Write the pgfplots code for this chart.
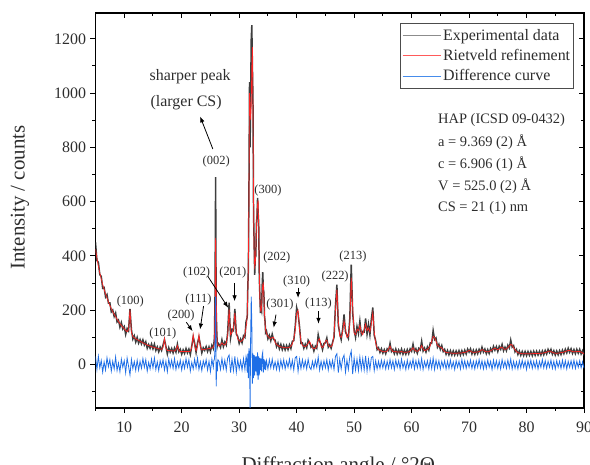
\documentclass[border=0pt]{standalone}
\usepackage{fontspec}
\setmainfont{Liberation Serif}
\usepackage{pgfplots}
\pgfplotsset{compat=1.18}
\usepackage{pgfplotstable}
\usetikzlibrary{arrows.meta}
\definecolor{expc}{RGB}{62,62,62}
\definecolor{calcc}{RGB}{255,35,35}
\definecolor{diffc}{RGB}{30,110,230}
\definecolor{txt}{RGB}{45,45,45}
\definecolor{legexp}{RGB}{140,140,140}
\definecolor{legcalc}{RGB}{255,90,90}
\definecolor{legdiff}{RGB}{70,140,235}

\pgfplotstableread{
x calc exp diff
5.00 425 450 30
5.25 392 383 -18
5.50 362 377 30
5.75 337 331 -12
6.00 315 325 15
6.25 295 281 -28
6.50 277 284 10
6.75 260 249 -20
7.00 245 258 25
7.25 231 226 -8
7.50 218 227 18
7.75 206 194 -24
8.00 195 201 12
8.25 185 177 -16
8.50 176 190 28
8.75 167 157 -22
9.00 159 164 6
9.25 151 138 -26
9.50 144 155 20
9.75 138 131 -10
10.00 132 140 14
10.25 126 111 -30
10.50 121 133 24
10.75 128 124 -6
11.00 202 205 -38
11.25 119 129 19
11.50 103 94 -15
11.75 99 106 11
12.00 95 83 -21
12.25 92 100 16
12.50 89 79 -20
12.75 86 92 12
13.00 83 76 -14
13.25 80 91 22
13.50 77 72 -10
13.75 75 84 18
14.00 72 60 -24
14.25 70 74 8
14.50 68 60 -16
14.75 66 76 20
15.00 64 58 -12
15.25 63 75 24
15.50 61 52 -18
15.75 60 65 10
16.00 58 47 -22
16.25 57 64 14
16.50 56 52 -8
16.75 63 72 18
17.00 96 92 -20
17.25 61 67 12
17.50 52 39 -26
17.75 52 62 20
18.00 51 46 -10
18.25 51 59 16
18.50 50 43 -14
18.75 50 61 22
19.00 55 46 -18
19.25 70 75 10
19.50 53 47 -12
19.75 48 56 16
20.00 48 38 -20
20.25 48 54 12
20.50 48 41 -14
20.75 48 59 22
21.00 48 43 -10
21.25 48 57 18
21.50 49 37 -24
21.75 64 68 8
22.00 110 102 -16
22.25 69 79 20
22.50 51 45 -12
22.75 68 80 24
23.00 110 101 -18
23.25 67 72 10
23.50 54 43 -22
23.75 55 62 14
24.00 56 52 -8
24.25 57 66 18
24.50 58 48 -20
24.75 59 65 12
25.00 60 47 -26
25.25 61 71 20
25.50 64 59 -10
25.60 70 78 15
25.70 90 100 20
25.80 200 260 60
25.90 467 690 250
26.00 280 200 -80
26.10 110 120 10
26.20 78 70 -25
26.30 72 80 18
26.50 68 75 12
26.75 72 63 -18
27.00 80 91 22
27.25 74 66 -14
27.50 72 83 16
27.75 80 72 -20
28.00 106 118 25
28.25 203 228 35
28.50 110 98 -30
28.75 118 130 20
29.00 132 125 -22
29.25 190 205 30
29.50 120 112 -28
29.75 95 104 18
30.00 88 78 -16
30.25 85 94 14
30.50 88 80 -20
30.75 95 106 22
31.00 110 100 -18
31.20 140 160 30
31.30 150 165 20
31.40 190 175 -30
31.50 260 285 40
31.60 380 350 -50
31.70 600 640 60
31.80 1000 1040 45
31.90 950 800 -160
32.00 900 1000 110
32.10 960 1200 250
32.20 1100 1250 150
32.30 1170 1100 -70
32.40 950 980 40
32.50 600 560 -50
32.60 420 450 35
32.70 360 330 -40
32.80 370 395 30
32.90 420 400 -25
33.00 500 520 30
33.10 570 545 -40
33.20 590 614 45
33.30 605 560 -55
33.40 500 520 30
33.50 350 320 -40
33.60 240 255 25
33.70 200 190 -20
33.80 195 210 22
33.90 215 200 -25
34.00 260 290 35
34.10 295 340 45
34.20 300 280 -30
34.30 250 265 20
34.40 190 180 -18
34.50 150 160 15
34.60 128 118 -20
34.75 115 124 14
35.00 105 95 -16
35.25 98 108 18
35.50 96 88 -12
35.75 100 112 20
36.00 100 92 -14
36.25 82 90 10
36.50 74 66 -18
36.75 70 79 14
37.00 67 58 -20
37.25 65 74 16
37.50 64 55 -12
37.75 63 71 18
38.00 62 54 -16
38.25 62 70 12
38.50 62 55 -10
38.75 64 73 20
39.00 68 59 -14
39.25 76 86 16
39.50 95 88 -20
39.75 125 140 25
40.00 190 210 30
40.25 200 188 -25
40.50 130 140 20
40.75 85 78 -15
41.00 70 80 18
41.25 68 60 -12
41.50 66 75 14
41.75 70 62 -16
42.00 78 90 20
42.25 86 80 -10
42.50 72 64 -18
42.75 62 71 12
43.00 58 50 -14
43.25 60 68 16
43.50 66 60 -10
43.75 90 110 28
44.00 95 85 -20
44.25 68 76 12
44.50 62 55 -16
44.75 70 78 14
45.00 86 80 -12
45.25 90 98 18
45.50 72 64 -20
45.75 65 73 14
46.00 66 60 -12
46.25 74 82 16
46.50 110 100 -18
46.75 200 215 30
47.00 276 294 40
47.25 160 145 -30
47.50 105 115 20
47.75 100 92 -16
48.00 120 130 22
48.25 160 185 35
48.50 135 120 -28
48.75 100 108 16
49.00 105 96 -18
49.25 150 170 30
49.50 320 368 50
49.75 210 190 -35
50.00 115 128 24
50.25 110 100 -20
50.50 130 140 20
50.75 125 115 -22
51.00 145 160 28
51.25 120 110 -18
51.50 110 122 22
51.75 130 120 -20
52.00 150 170 32
52.25 125 112 -24
52.50 135 148 20
52.75 120 110 -18
53.00 150 168 26
53.25 190 210 30
53.50 120 108 -22
53.75 80 88 14
54.00 62 55 -16
54.25 55 62 12
54.50 52 45 -14
54.75 50 58 16
55.00 48 42 -12
55.25 47 55 14
55.50 47 40 -16
55.75 50 58 12
56.00 58 51 -14
56.25 68 78 18
56.50 55 48 -12
56.75 48 56 14
57.00 47 40 -18
57.25 48 57 16
57.50 46 39 -10
57.75 46 54 14
58.00 47 41 -16
58.25 48 57 20
58.50 46 38 -12
58.75 45 53 10
59.00 45 38 -18
59.25 46 55 16
59.50 46 40 -14
59.75 50 58 12
60.00 55 49 -10
60.25 62 75 20
60.50 54 47 -16
60.75 50 58 14
61.00 49 42 -12
61.25 52 60 16
61.50 60 54 -14
61.75 70 86 22
62.00 58 50 -18
62.25 52 61 12
62.50 53 46 -10
62.75 56 65 14
63.00 60 53 -16
63.25 70 80 18
63.50 86 78 -14
63.75 104 125 24
64.00 100 92 -18
64.25 86 98 16
64.50 72 64 -12
64.75 66 75 14
65.00 64 56 -16
65.25 62 70 12
65.50 54 48 -10
65.75 48 56 14
66.00 45 38 -16
66.25 44 52 12
66.50 43 36 -14
66.75 43 51 16
67.00 42 35 -12
67.25 42 50 10
67.50 42 35 -18
67.75 42 50 14
68.00 42 36 -10
68.25 43 51 12
68.50 42 35 -16
68.75 43 51 18
69.00 44 37 -12
69.25 45 53 14
69.50 46 39 -14
69.75 49 57 12
70.00 52 46 -10
70.25 50 58 16
70.50 46 39 -14
70.75 45 53 12
71.00 45 38 -16
71.25 46 54 14
71.50 46 40 -10
71.75 48 56 18
72.00 51 44 -12
72.25 55 64 14
72.50 53 46 -16
72.75 49 57 12
73.00 47 40 -14
73.25 47 55 16
73.50 48 41 -10
73.75 51 59 12
74.00 54 48 -18
74.25 58 67 16
74.50 60 53 -12
74.75 57 66 14
75.00 55 48 -14
75.25 58 67 12
75.50 63 56 -16
75.75 64 74 18
76.00 58 51 -10
76.25 56 64 12
76.50 58 51 -14
76.75 62 71 16
77.00 68 61 -12
77.25 74 90 20
77.50 72 64 -16
77.75 62 70 12
78.00 54 47 -14
78.25 48 56 10
78.50 44 37 -16
78.75 42 50 14
79.00 41 34 -12
79.25 40 48 16
79.50 40 33 -10
79.75 40 48 12
80.00 40 33 -18
80.25 40 48 14
80.50 40 34 -10
80.75 40 48 16
81.00 40 33 -14
81.25 41 49 12
81.50 41 34 -12
81.75 41 49 14
82.00 41 35 -16
82.25 41 49 12
82.50 42 35 -10
82.75 42 50 18
83.00 43 36 -12
83.25 44 52 14
83.50 46 39 -14
83.75 48 56 12
84.00 50 44 -10
84.25 48 56 16
84.50 45 38 -14
84.75 43 51 12
85.00 42 35 -16
85.25 42 50 14
85.50 42 36 -10
85.75 43 51 12
86.00 44 37 -14
86.25 45 53 16
86.50 46 40 -12
86.75 48 56 14
87.00 50 43 -16
87.25 52 60 12
87.50 52 45 -10
87.75 50 58 14
88.00 48 41 -12
88.25 47 55 16
88.50 47 40 -14
88.75 48 56 12
89.00 48 42 -10
89.25 48 56 14
89.50 46 39 -12
89.75 43 51 10
90.00 40 34 -14
}\data

\begin{document}
\begin{tikzpicture}
\path[use as bounding box] (0,0) rectangle (590bp,465bp);
% inward ticks on top and right
\begin{axis}[
  at={(95.5bp,57bp)}, anchor=south west,
  scale only axis, width=488.5bp, height=395bp,
  xmin=5, xmax=90, ymin=-160, ymax=1295,
  axis line style={draw=none},
  xtick={10,20,...,90}, minor xtick={5,15,...,85},
  ytick={0,200,...,1200}, minor ytick={-100,100,...,1100},
  xtick pos=right, ytick pos=right, tick align=inside,
  xticklabels={}, yticklabels={},
  major tick length=5bp, minor tick length=3bp,
  tick style={black, line width=1pt},
]
\end{axis}
\begin{axis}[
  at={(95.5bp,57bp)}, anchor=south west,
  scale only axis, width=488.5bp, height=395bp,
  xmin=5, xmax=90, ymin=-160, ymax=1295,
  xtick={10,20,...,90}, minor xtick={5,15,...,85},
  ytick={0,200,...,1200}, minor ytick={-100,100,...,1100},
  xtick pos=left, ytick pos=left, tick align=outside,
  major tick length=5bp, minor tick length=3bp,
  tick style={black, line width=1pt},
  axis line style={line width=1.3pt},
  ticklabel style={font=\fontsize{16}{19}\selectfont, text=txt},
  xticklabel style={yshift=-5bp},
  yticklabel style={xshift=-1bp},
  /pgf/number format/assume math mode=true,
  /pgf/number format/1000 sep={},
  xlabel={Diffraction angle / °2Θ},
  ylabel={Intensity / counts},
  label style={font=\fontsize{21}{25}\selectfont, text=txt},
  xlabel style={at={(axis description cs:0.497,-0.147)}, anchor=center},
  ylabel style={at={(axis description cs:-0.1545,0.533)}, anchor=center},
  legend style={at={(axis description cs:0.9795,0.9747)}, anchor=north east,
    draw=black!70, line width=0.7pt, fill=white,
    font=\fontsize{16}{18}\selectfont, text=txt,
    inner xsep=1.5bp, inner ysep=4bp, row sep=3.5bp,
    nodes={inner sep=2bp}},
  legend cell align=left,
  legend image code/.code={\draw[#1] (0bp,0bp) -- (38bp,0bp);},
]
\addlegendimage{draw=legexp, line width=0.9pt}
\addlegendentry{Experimental data}
\addlegendimage{draw=legcalc, line width=0.9pt}
\addlegendentry{Rietveld refinement}
\addlegendimage{draw=legdiff, line width=0.9pt}
\addlegendentry{Difference curve}

\addplot[expc, line width=1.5pt, forget plot] table[x=x, y=exp]{\data};
\addplot[calcc, line width=0.7pt, forget plot] table[x=x, y=calc]{\data};
\addplot[diffc, line width=0.8pt, forget plot] table[x=x, y=diff]{\data};

% peak labels
\begin{scope}[every node/.style={font=\fontsize{12.5}{14}\selectfont, text=txt}]
\node at (axis cs:11.05,233) {(100)};
\node at (axis cs:16.7,113) {(101)};
\node at (axis cs:19.9,180) {(200)};
\node at (axis cs:22.9,239) {(111)};
\node at (axis cs:22.6,340) {(102)};
\node at (axis cs:28.9,340) {(201)};
\node at (axis cs:26.0,748) {(002)};
\node at (axis cs:35.0,640) {(300)};
\node at (axis cs:36.55,396) {(202)};
\node at (axis cs:37.1,221) {(301)};
\node at (axis cs:40.0,307) {(310)};
\node at (axis cs:43.8,224) {(113)};
\node at (axis cs:46.7,325) {(222)};
\node at (axis cs:49.8,399) {(213)};
\end{scope}

\begin{scope}[-{Latex[length=6bp,width=4.5bp]}, line width=0.8pt, black]
\draw (axis cs:20.8,156) -- (axis cs:21.9,123);
\draw (axis cs:23.8,215) -- (axis cs:23.2,129);
\draw (axis cs:24.55,325) -- (axis cs:28.1,209);
\draw (axis cs:29.2,301) -- (axis cs:29.2,233);
\draw (axis cs:36.4,184) -- (axis cs:36.0,136);
\draw (axis cs:40.25,283) -- (axis cs:40.25,245);
\draw (axis cs:43.8,196) -- (axis cs:43.8,150);
\draw (axis cs:25.42,794) -- (axis cs:23.2,914);
\end{scope}

\node[font=\fontsize{16}{18}\selectfont, text=txt] at (axis cs:21.47,1061) {sharper peak};
\node[font=\fontsize{16}{18}\selectfont, text=txt] at (axis cs:20.77,965) {(larger CS)};

\begin{scope}[every node/.style={font=\fontsize{14.5}{16}\selectfont, text=txt, anchor=base west, inner sep=0pt}]
\node at (axis cs:64.6,889) {HAP (ICSD 09-0432)};
\node at (axis cs:64.6,804) {a = 9.369 (2) Å};
\node at (axis cs:64.6,723) {c = 6.906 (1) Å};
\node at (axis cs:64.6,642) {V = 525.0 (2) Å};
\node at (axis cs:64.6,565) {CS = 21 (1) nm};
\end{scope}
\end{axis}
\end{tikzpicture}
\end{document}
